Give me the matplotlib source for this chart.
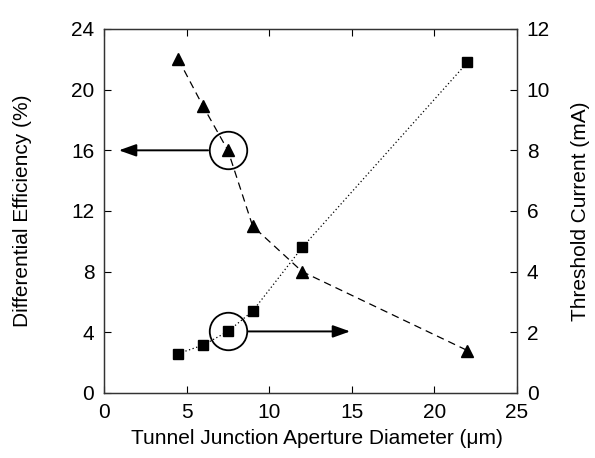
import matplotlib

matplotlib.use("Agg")

import matplotlib.pyplot as plt

# aperture diameter (um)
diameter = [4.5, 6.0, 7.5, 9.0, 12.0, 22.0]
# differential efficiency (%), left axis
efficiency = [22.0, 18.9, 16.0, 11.0, 8.0, 2.8]
# threshold current (mA), right axis
threshold = [1.3, 1.58, 2.03, 2.7, 4.8, 10.9]

x_ticks = [0, 5, 10, 15, 20, 25]
left_ticks = [0, 4, 8, 12, 16, 20, 24]
right_ticks = [0, 2, 4, 6, 8, 10, 12]

plt.rcParams["font.family"] = ["Liberation Sans", "DejaVu Sans"]
plt.rcParams["font.size"] = 15

W, H = 595, 458
fig = plt.figure(figsize=(W / 100, H / 100), dpi=100)
ax = fig.add_axes([104 / W, 1 - 393 / H, (517 - 104) / W, (393 - 29) / H])
ax2 = ax.twinx()

ax.plot(diameter, efficiency, color="black", linestyle=(0, (6, 4)), linewidth=0.9,
        marker="^", markersize=8, markerfacecolor="black", markeredgecolor="black")
ax2.plot(diameter, threshold, color="black", linestyle=(0, (1, 2)), linewidth=0.9,
         marker="s", markersize=7, markerfacecolor="black", markeredgecolor="black")

# circled points with arrows pointing to their axes
ax.plot([diameter[2]], [efficiency[2]], "o", markersize=27, markerfacecolor="none",
        markeredgecolor="black", markeredgewidth=1.3)
ax2.plot([diameter[2]], [threshold[2]], "o", markersize=27, markerfacecolor="none",
         markeredgecolor="black", markeredgewidth=1.3)
arrow = dict(arrowstyle="-|>,head_length=0.7,head_width=0.25", color="black", lw=1.4,
             shrinkA=0, shrinkB=0)
ax.annotate("", xy=(0.9, efficiency[2]), xytext=(6.3, efficiency[2]), arrowprops=arrow)
ax2.annotate("", xy=(14.9, threshold[2]), xytext=(8.75, threshold[2]), arrowprops=arrow)

ax.set_xlim(0, 25)
ax.set_ylim(0, 24)
ax2.set_ylim(0, 12)
ax.set_xticks(x_ticks)
ax.set_yticks(left_ticks)
ax2.set_yticks(right_ticks)

for a in (ax, ax2):
    a.tick_params(direction="in", length=5, width=0.8, labelsize=15, pad=7)
    for s in a.spines.values():
        s.set_linewidth(0.9)
        s.set_color("#333333")
ax.tick_params(top=True)

ax.set_xlabel("Tunnel Junction Aperture Diameter (\u03bcm)", fontsize=15)
ax.set_ylabel("Differential Efficiency (%)", fontsize=15)
ax2.set_ylabel("Threshold Current (mA)", fontsize=15)
ax.xaxis.set_label_coords(0.516, -0.10)
ax.yaxis.set_label_coords(-0.175, 0.5)
ax2.yaxis.set_label_coords(1.13, 0.5)

fig.savefig("out.png", dpi=100)
